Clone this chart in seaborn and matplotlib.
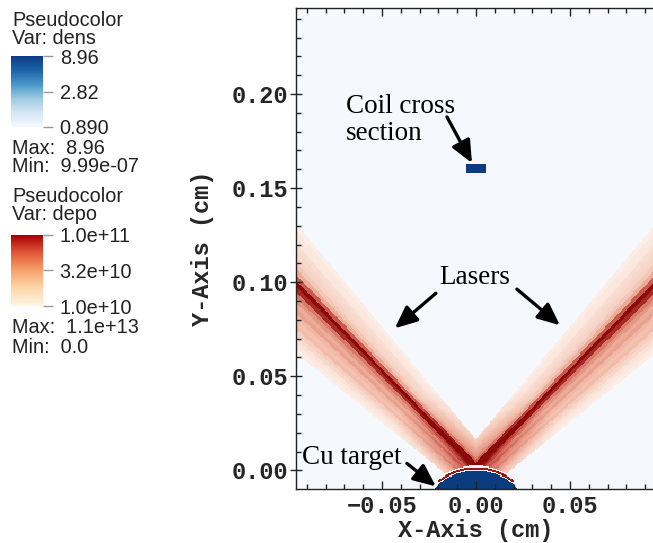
import numpy as np
import matplotlib.pyplot as plt
import seaborn as sns
from matplotlib.colors import LinearSegmentedColormap, LogNorm
from matplotlib.cm import ScalarMappable

# plot window (cm) and mesh cell size
x_range = [-0.0957, 0.0957]
y_range = [-0.0101, 0.2457]
cell = 0.0006

# Cu target sphere (cm)
target_center = [0.0, -0.030]
target_radius = 0.030
# thin deposition shells on the target surface: outer radius, log10(depo)
shell_radii = [0.0306, 0.0318, 0.0326]
shell_logdepo = [10.0, 10.95, 10.0]
shell_half_angle = 40.0

# coil cross section box (cm)
coil_x = [-0.0048, 0.0048]
coil_y = [0.158, 0.1628]

# left laser cone, right one is its mirror image
laser_apex = [0.0787, -0.078]
laser_edges = [129.8, 141.2]          # inner / outer edge angle, deg
# log10(depo) across the beam, inner edge -> outer edge
laser_profile = [10.05, 10.10, 10.12, 10.18, 10.22, 10.25, 10.32, 10.45,
                 10.75, 11.0, 10.9, 10.65, 10.55, 10.45, 10.5, 10.4,
                 10.35, 10.38, 10.28, 10.22, 10.15, 10.10, 10.05]
laser_gain = 0.35
gain_scale = 0.05

dens_max, dens_min = 8.96, 9.99e-07
dens_ticks = [8.96, 2.82, 0.890]
dens_labels = ['8.96', '2.82', '0.890']
depo_ticks = [1.0e11, 3.2e10, 1.0e10]
depo_labels = ['1.0e+11', '3.2e+10', '1.0e+10']

x_major = [-0.05, 0.0, 0.05]
x_labels = ['\u22120.05', '0.00', '0.05']
y_major = [0.0, 0.05, 0.10, 0.15, 0.20]
y_labels = ['0.00', '0.05', '0.10', '0.15', '0.20']

# ---- build the mesh fields
nx = int(round((x_range[1] - x_range[0]) / cell))
ny = int(round((y_range[1] - y_range[0]) / cell))
xc = x_range[0] + (np.arange(nx) + 0.5) * cell
yc = y_range[1] - (np.arange(ny) + 0.5) * cell   # top row first
X, Y = np.meshgrid(xc, yc)


def beam(xm):
    ang = np.degrees(np.arctan2(Y - laser_apex[1], xm - laser_apex[0]))
    f = (ang - laser_edges[0]) / (laser_edges[1] - laser_edges[0])
    inside = (f >= 0) & (f < 1)
    idx = np.clip((f * len(laser_profile)).astype(int), 0, len(laser_profile) - 1)
    val = np.asarray(laser_profile)[idx]
    val = val + laser_gain * np.clip(1 - np.hypot(xm, Y) / gain_scale, 0, 1)
    return np.where(inside, val, np.nan)


depo = np.fmax(beam(X), beam(-X))

r = np.hypot(X - target_center[0], Y - target_center[1])
theta = np.degrees(np.arctan2(np.abs(X - target_center[0]), Y - target_center[1]))
inner = target_radius
for outer, val in zip(shell_radii, shell_logdepo):
    depo[(r >= inner) & (r < outer) & (theta < shell_half_angle)] = val
    inner = outer
depo[r < target_radius] = np.nan

dens = np.full(X.shape, dens_min)
dens[r < target_radius] = dens_max
dens[(X >= coil_x[0]) & (X <= coil_x[1]) & (Y >= coil_y[0]) & (Y <= coil_y[1])] = dens_max

# ---- colours
blues = LinearSegmentedColormap.from_list(
    'dens', ['#f5f9fe', '#d6e6f4', '#9ecae1', '#4a98c9', '#1c62a8', '#0b3c80'])
reds_plot = LinearSegmentedColormap.from_list(
    'depo', ['#fdf4ef', '#f8dccf', '#f0b8a6', '#e08a78', '#c24a40', '#8a0a0a'])
reds_bar = LinearSegmentedColormap.from_list(
    'depo_bar', ['#fff5e6', '#fdd7a8', '#f7a26c', '#e2583a', '#a30000'])

sns.set_style('white')
plt.rcParams['font.family'] = ['Liberation Sans', 'DejaVu Sans']

W, H = 653, 543
fig = plt.figure(figsize=(W / 100, H / 100), dpi=100)

ax_w = (x_range[1] - x_range[0]) * 1880
ax = fig.add_axes([296 / W, (H - 489) / H, ax_w / W, 481 / H])

sns.heatmap(np.log10(dens), ax=ax, cmap=blues, vmin=np.log10(0.890),
            vmax=np.log10(dens_max), cbar=False, xticklabels=False, yticklabels=False)
sns.heatmap(depo, ax=ax, cmap=reds_plot, vmin=10, vmax=11, cbar=False,
            xticklabels=False, yticklabels=False)
ax.set_axisbelow(False)   # ticks point inwards, keep them over the mesh


def col(v):
    return (np.asarray(v) - x_range[0]) / cell


def row(v):
    return (y_range[1] - np.asarray(v)) / cell


for s in ['left', 'bottom', 'top']:
    ax.spines[s].set_visible(True)
    ax.spines[s].set_color('#222222')
    ax.spines[s].set_linewidth(1.0)

mono = dict(family='Liberation Mono', size=17, weight='bold')
ax.set_xticks(col(x_major))
ax.set_xticklabels(x_labels, fontdict=mono)
ax.set_yticks(row(y_major))
ax.set_yticklabels(y_labels, fontdict=mono, rotation=0)
ax.set_xticks(col(np.arange(-0.09, 0.095, 0.01)), minor=True)
ax.set_yticks(row(np.arange(0.0, 0.245, 0.01)), minor=True)
ax.tick_params(axis='x', which='major', direction='in', length=6, width=1, pad=4,
               color='#222222', top=True, bottom=True)
ax.tick_params(axis='y', which='major', direction='inout', length=9, width=1, pad=1,
               color='#222222', left=True)
ax.tick_params(which='minor', direction='in', length=3.5, width=1,
               color='#222222', top=True, bottom=True, left=True)
ax.set_xlabel('X-Axis (cm)', fontdict=mono)
ax.set_ylabel('Y-Axis (cm)', fontdict=mono)
ax.xaxis.set_label_coords(0.5, -0.062)
ax.yaxis.set_label_coords(-0.228, 0.5)

# ---- annotations (positions in cm)
serif = dict(family='Liberation Serif', size=19.5, color='black')
arrow = dict(arrowstyle='-|>,head_length=0.9,head_width=0.4', lw=2.4,
             mutation_scale=15, color='black', shrinkA=0, shrinkB=0)


def pt(x, y):
    return (col(x), row(y))


ax.text(*pt(-0.0691, 0.2000), 'Coil cross\nsection', va='top', ha='left',
        linespacing=1.1, **serif)
ax.annotate('', xy=pt(-0.0021, 0.1633), xytext=pt(-0.0154, 0.1878), arrowprops=arrow)
ax.text(*pt(-0.0005, 0.1027), 'Lasers', va='center', ha='center', **serif)
ax.annotate('', xy=pt(-0.0431, 0.0755), xytext=pt(-0.0213, 0.0941), arrowprops=arrow)
ax.annotate('', xy=pt(0.0447, 0.0771), xytext=pt(0.0218, 0.0963), arrowprops=arrow)
ax.text(*pt(-0.0926, 0.0069), 'Cu target', va='center', ha='left', **serif)
ax.annotate('', xy=pt(-0.0213, -0.0085), xytext=pt(-0.0367, 0.0037), arrowprops=arrow)

# ---- legend panel
txt = dict(size=14.3, color='#222222', va='baseline', ha='left')


def ftext(x, y, s):
    fig.text(x / W, 1 - y / H, s, **txt)


ftext(12, 26, 'Pseudocolor')
ftext(12, 44.5, 'Var: dens')
ftext(12, 154, 'Max:  8.96')
ftext(12, 172.5, 'Min:  9.99e-07')
ftext(12, 201.7, 'Pseudocolor')
ftext(12, 220, 'Var: depo')
ftext(12, 333, 'Max:  1.1e+13')
ftext(12, 352.7, 'Min:  0.0')


def legend_bar(top, bottom, cmap, lo, hi, ticks, labels):
    cax = fig.add_axes([11 / W, 1 - bottom / H, 32 / W, (bottom - top) / H])
    cb = fig.colorbar(ScalarMappable(norm=LogNorm(lo, hi), cmap=cmap), cax=cax)
    cb.outline.set_visible(False)
    cb.ax.minorticks_off()
    cb.set_ticks(ticks, labels=labels)
    cb.ax.tick_params(direction='out', length=7, width=1, color='#999999',
                      pad=5, labelsize=14.3, labelcolor='#222222')


legend_bar(56, 127, blues, 0.890, dens_max, dens_ticks, dens_labels)
legend_bar(235, 306, reds_bar, 1.0e10, 1.0e11, depo_ticks, depo_labels)

fig.savefig('out.png', dpi=100)
